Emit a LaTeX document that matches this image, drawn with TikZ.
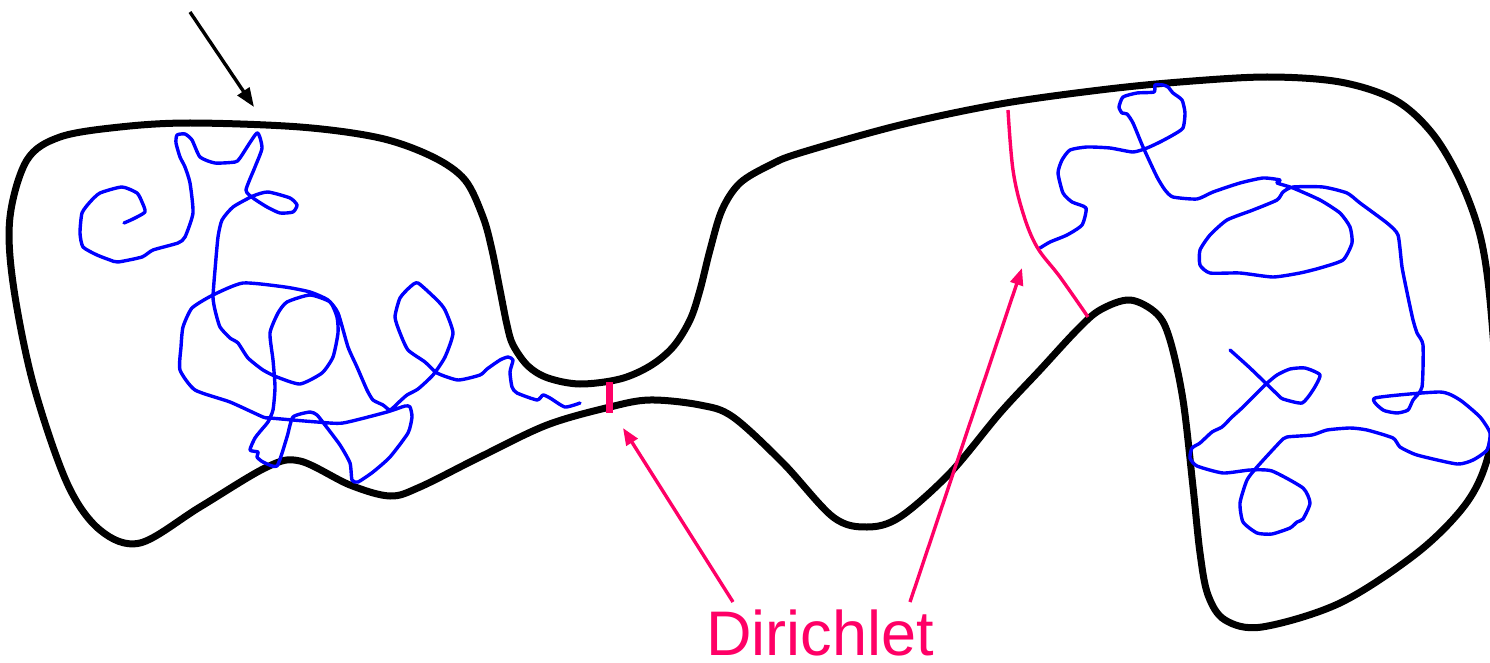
\documentclass[tikz,border=0pt]{standalone}
\usepackage{fontspec}
\setmainfont{Liberation Sans}
\usetikzlibrary{arrows.meta}
\definecolor{dpink}{RGB}{255,0,102}
\definecolor{wblue}{RGB}{0,0,255}
\tikzset{
  boundary/.style={line width=7pt, black, line join=round},
  walk/.style={line width=3.4pt, wblue, line join=round, line cap=round},
  pinkline/.style={line width=3.4pt, dpink},
  pinkarrow/.style={line width=3.4pt, dpink, -{Triangle[length=17pt,width=13pt]}},
  blackarrow/.style={line width=3.4pt, black, -{Triangle[length=19pt,width=14pt]}},
  label/.style={text=dpink, inner sep=0pt, font=\fontsize{63}{63}\selectfont}
}
\begin{document}
\begin{tikzpicture}[x=1pt,y=-1pt]
\useasboundingbox (0,0) rectangle (1490,663);
% domain boundary
\draw[boundary] plot[smooth cycle, tension=0.55] coordinates {
(27,160) (60,137) (120,127) (190,123) (300,127) (380,138) (433,157) (465,180) (483,217) (492,250) (500,290) (507,325) (513,345) (528,366) (548,378) (580,384) (620,379) (650,366) (673,347) (690,320) (700,290) (710,250) (722,210) (740,183) (770,165) (800,153) (900,125) (1000,104) (1100,90) (1180,82) (1267,77) (1340,82) (1395,100) (1432,133) (1460,180) (1480,235) (1490,300) (1496,400) (1487,460) (1465,505) (1417,553) (1340,603) (1262,627) (1225,620) (1208,595) (1200,553) (1193,487) (1183,400) (1170,340) (1157,314) (1130,300) (1100,310) (1077,330) (1040,370) (1000,413) (950,473) (900,517) (867,527) (833,517) (783,463) (733,417) (700,405) (650,400) (610,407) (547,425) (480,457) (420,487) (390,496) (350,485) (300,461) (267,467) (200,507) (140,543) (100,530) (67,483) (33,383) (13,283) (10,217)
};
% left random walk
\draw[walk] plot[smooth, tension=0.35] coordinates {
(124,223) (133,219) (145,212) (142,202) (137,193) (122,187) (100,193) (90,202) (82,213) (80,233) (83,247) (97,255) (110,260) (118,262) (142,257) (153,250) (178,243) (185,237) (193,213) (190,183) (185,167) (180,157) (176,143) (177,135) (185,134) (192,140) (200,157) (215,163) (235,162) (240,158) (257,133) (262,148) (255,167) (246,190) (253,198) (267,207) (280,213) (293,212) (297,205) (290,198) (268,192) (253,196) (233,207) (222,220) (218,237) (215,270) (213,297) (215,310) (220,327) (230,338) (238,343) (248,358) (263,370) (277,377) (300,384) (322,373) (333,357) (338,333) (337,317) (330,302) (310,295) (287,302) (278,313) (270,333) (273,360) (275,387) (273,410) (268,422) (263,428) (255,438) (250,450) (258,452) (257,457) (263,462) (277,466) (287,437) (293,417) (310,412) (317,415) (325,425) (340,445) (350,463) (352,480) (358,482) (373,472) (390,457) (408,433) (412,417) (410,407) (405,406) (387,412) (343,423) (317,422) (270,418) (263,417) (230,402) (195,390) (180,370) (181,347) (183,327) (192,308) (213,295) (243,283) (285,287) (310,292) (328,300) (338,313) (348,347) (357,367) (367,390) (373,400) (383,405) (390,410) (398,403) (407,395) (418,389) (433,375) (445,357) (453,333) (445,310) (437,300) (418,283) (410,287) (400,298) (395,317) (400,333) (408,350) (425,362) (437,373) (458,380) (480,375) (487,369) (500,360) (508,357) (513,360) (510,372) (512,387) (517,393) (537,400) (543,395) (550,398) (565,407) (580,403)
};
% right random walk
\draw[walk] plot[smooth, tension=0.35] coordinates {
(1040,248) (1050,242) (1067,235) (1082,225) (1086,208) (1072,202) (1063,193) (1058,173) (1062,160) (1070,150) (1087,147) (1110,148) (1133,152) (1147,148) (1160,142) (1173,135) (1183,128) (1185,113) (1182,100) (1173,93) (1168,87) (1163,85) (1155,85) (1154,92) (1137,93) (1123,97) (1119,107) (1122,113) (1127,114) (1133,123) (1143,147) (1157,177) (1165,190) (1173,197) (1197,199) (1213,192) (1240,183) (1263,178) (1280,180) (1277,183) (1293,188) (1320,200) (1340,213) (1350,227) (1352,243) (1343,260) (1320,268) (1300,273) (1273,277) (1240,273) (1210,273) (1200,265) (1200,250) (1210,235) (1227,220) (1253,210) (1277,200) (1283,192) (1293,187) (1323,187) (1347,193) (1360,203) (1387,223) (1398,235) (1402,267) (1408,297) (1413,320) (1417,333) (1423,345) (1422,387) (1413,400) (1408,410) (1397,413) (1383,410) (1375,398) (1440,392) (1460,400) (1480,417) (1490,433) (1487,450) (1473,460) (1457,464) (1417,455) (1400,447) (1393,438) (1367,430) (1350,428) (1327,430) (1312,435) (1287,437) (1280,442) (1257,467) (1247,480) (1240,503) (1243,522) (1257,533) (1272,534) (1290,528) (1297,522) (1303,519) (1310,503) (1303,488) (1272,471) (1250,470) (1223,473) (1197,466) (1190,458) (1192,448) (1200,443) (1212,432) (1222,427) (1232,417) (1243,407) (1265,385) (1277,375) (1290,369) (1305,368) (1320,375) (1313,390) (1302,403) (1283,399) (1278,395) (1250,368) (1230,350)
};
% Dirichlet parts
\draw[line width=7pt, dpink] (609,382) -- (609,413);
\draw[pinkline] plot[smooth, tension=0.6] coordinates {(1008,110) (1013,170) (1023,213) (1037,247) (1060,277) (1088,317)};
% label and arrows
\node[label, anchor=base west] (dir) at (706,655) {Dirichlet};
\coordinate (a1s) at (733,602);
\coordinate (a1e) at (623,428);
\coordinate (a2s) at (910,602);
\coordinate (a2e) at (1022,268);
\draw[pinkarrow] (a1s) -- (a1e);
\draw[pinkarrow] (a2s) -- (a2e);
\coordinate (b1s) at (190,12);
\coordinate (b1e) at (254,107);
\draw[blackarrow] (b1s) -- (b1e);
\end{tikzpicture}
\end{document}
